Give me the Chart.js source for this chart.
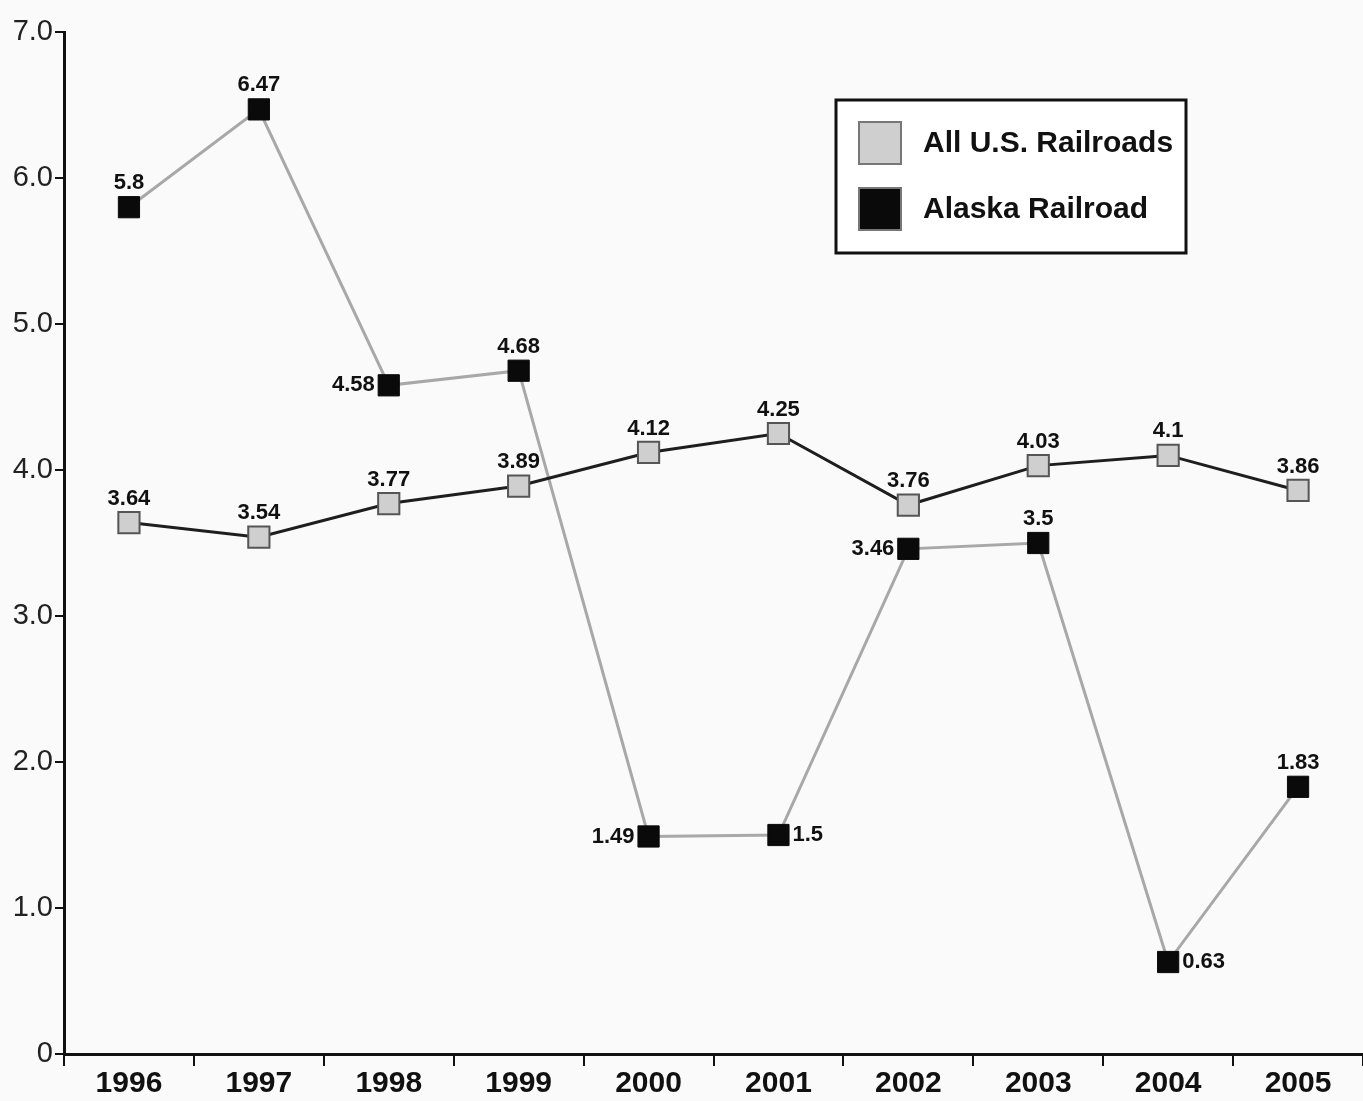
<!DOCTYPE html>
<html>
<head>
<meta charset="utf-8">
<script src="https://cdn.jsdelivr.net/npm/chart.js@4/dist/chart.umd.min.js"></script>
<style>
  html, body { margin: 0; overflow: hidden; background: #fafafa; }
  #wrap { width: 1363px; height: 1101px; }
</style>
</head>
<body>
<div id="wrap"><canvas id="chart"></canvas></div>
<script>
const years = ['1996', '1997', '1998', '1999', '2000', '2001', '2002', '2003', '2004', '2005'];
const usRailroads = [3.64, 3.54, 3.77, 3.89, 4.12, 4.25, 3.76, 4.03, 4.1, 3.86];
const alaskaRailroad = [5.8, 6.47, 4.58, 4.68, 1.49, 1.5, 3.46, 3.5, 0.63, 1.83];
// where each value label sits relative to its point
const usLabelPos = ['top', 'top', 'top', 'top', 'top', 'top', 'top', 'top', 'top', 'top'];
const akLabelPos = ['top', 'top', 'left', 'top', 'left', 'right', 'left', 'top', 'right', 'top'];

const narrow = '"Liberation Sans Narrow", "Arial Narrow", "Liberation Sans", sans-serif';

const valueLabels = {
    id: 'valueLabels',
    afterDatasetsDraw(chart) {
        const ctx = chart.ctx;
        ctx.save();
        ctx.font = 'bold 22px ' + narrow;
        ctx.fillStyle = '#111';
        chart.data.datasets.forEach((ds, i) => {
            const pos = i === 0 ? usLabelPos : akLabelPos;
            chart.getDatasetMeta(i).data.forEach((pt, j) => {
                const text = String(ds.data[j]);
                const p = pos[j];
                if (p === 'top') {
                    ctx.textAlign = 'center';
                    ctx.textBaseline = 'bottom';
                    ctx.fillText(text, pt.x, pt.y - 13);
                } else if (p === 'left') {
                    ctx.textAlign = 'right';
                    ctx.textBaseline = 'middle';
                    ctx.fillText(text, pt.x - 14, pt.y);
                } else {
                    ctx.textAlign = 'left';
                    ctx.textBaseline = 'middle';
                    ctx.fillText(text, pt.x + 14, pt.y);
                }
            });
        });
        ctx.restore();
    }
};

const boxLegend = {
    id: 'boxLegend',
    afterDraw(chart) {
        const ctx = chart.ctx;
        const x = 836, y = 100, w = 350, h = 153;
        ctx.save();
        ctx.fillStyle = '#fff';
        ctx.fillRect(x, y, w, h);
        ctx.lineWidth = 3;
        ctx.strokeStyle = '#111';
        ctx.strokeRect(x, y, w, h);
        ctx.font = 'bold 30px ' + narrow;
        ctx.textBaseline = 'middle';
        ctx.textAlign = 'left';
        chart.data.datasets.forEach((ds, i) => {
            const cy = y + 43 + i * 66;
            ctx.fillStyle = ds.pointBackgroundColor;
            ctx.fillRect(x + 23, cy - 21, 42, 42);
            ctx.lineWidth = 2;
            ctx.strokeStyle = '#777';
            ctx.strokeRect(x + 23, cy - 21, 42, 42);
            ctx.fillStyle = '#111';
            ctx.fillText(ds.label, x + 87, cy + 1);
        });
        ctx.restore();
    }
};

new Chart(document.getElementById('chart'), {
    type: 'line',
    data: {
        labels: years,
        datasets: [{
            label: 'All U.S. Railroads',
            data: usRailroads,
            borderColor: '#1e1e1e',
            borderWidth: 3,
            pointStyle: 'rect',
            pointRadius: 15,
            pointBackgroundColor: '#cfcfcf',
            pointBorderColor: '#555',
            pointBorderWidth: 2
        }, {
            label: 'Alaska Railroad',
            data: alaskaRailroad,
            borderColor: '#a8a8a8',
            borderWidth: 3,
            pointStyle: 'rect',
            pointRadius: 15,
            pointBackgroundColor: '#0a0a0a',
            pointBorderColor: '#0a0a0a',
            pointBorderWidth: 1
        }]
    },
    options: {
        responsive: true,
        maintainAspectRatio: false,
        animation: false,
        layout: { autoPadding: false, padding: { top: 32, right: 0, left: 0, bottom: 0 } },
        plugins: {
            legend: { display: false },
            tooltip: { enabled: false }
        },
        scales: {
            x: {
                offset: true,
                grid: { offset: true, drawOnChartArea: false, drawTicks: true, tickLength: 12, color: '#111', lineWidth: 2 },
                border: { color: '#111', width: 3 },
                ticks: { color: '#111', font: { family: narrow, size: 30, weight: 'bold' }, padding: 0 },
                afterFit: scale => {
                    scale.height = 47;
                    scale.paddingLeft = 0;
                    scale.paddingRight = 0;
                }
            },
            y: {
                min: 0,
                max: 7,
                ticks: {
                    stepSize: 1,
                    color: '#222',
                    padding: 2,
                    font: { family: narrow, size: 29 },
                    callback: v => v === 0 ? '0' : v.toFixed(1)
                },
                grid: { drawOnChartArea: false, drawTicks: true, tickLength: 9, color: '#111', lineWidth: 2 },
                border: { color: '#111', width: 3 },
                afterFit: scale => {
                    scale.width = 64;
                    scale.paddingTop = 0;
                    scale.paddingBottom = 0;
                }
            }
        }
    },
    plugins: [valueLabels, boxLegend]
});
</script>
</body>
</html>
